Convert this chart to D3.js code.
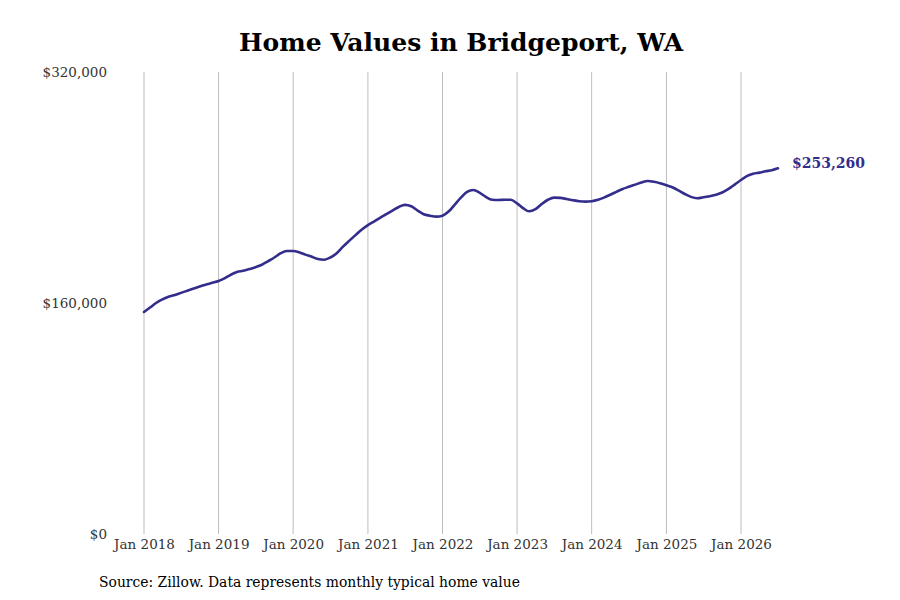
<!DOCTYPE html>
<html>
<head>
<meta charset="utf-8">
<script src="https://cdn.jsdelivr.net/npm/d3@7"></script>
<style>
  body { margin: 0; background: #fff; }
  svg text { font-family: "DejaVu Serif", serif; }
</style>
</head>
<body>
<div id="vizHolder"></div>
<script>
// monthly typical home value, Jan 2018 .. Jul 2026 (thousands of dollars)
var startYear = 2018;
var values = [
  153.8, 157, 160, 162.5, 164.3, 165.5, 167, 168.5, 170, 171.5, 172.8, 174,
  175.3, 177.2, 179.5, 181.5, 182.3, 183.5, 184.8, 186.5, 189, 191.5, 194.5, 196,
  196, 195, 193.5, 192, 190.5, 190, 191.5, 194.5, 199, 203, 207, 210.8,
  214, 216.5, 219, 221.5, 224, 226.5, 228, 227, 224, 221.5, 220.5, 219.8,
  220.5, 223.5, 228, 233, 237, 238.3, 236.5, 233.5, 231.5, 231.3, 231.5, 231.5,
  229, 225.5, 223.5, 225, 228.5, 231.5, 233, 232.8, 232, 231.2, 230.5, 230.2,
  230.5, 231.5, 233, 235, 237, 239, 240.5, 242, 243.5, 244.5, 244, 243,
  241.5, 240, 238, 235.5, 233.5, 232.6, 233.2, 234, 235, 236.5, 239, 242,
  245.2, 248, 249.5, 250.3, 251.2, 252, 253.26
];
var yTicks = [0, 160000, 320000];
var xTickYears = [2018, 2019, 2020, 2021, 2022, 2023, 2024, 2025, 2026];
var title = 'Home Values in Bridgeport, WA';
var source = 'Source: Zillow. Data represents monthly typical home value';
var endLabel = '$253,260';

var width = 900, height = 600,
    plotTop = 72, plotBottom = 534,
    lineColor = '#332d8b';

var data = values.map(function(v, i) {
  return { date: new Date(startYear, i, 1), value: v * 1000 };
});

var xScale = d3.scaleTime()
  .domain([new Date(2018, 0, 1), new Date(2026, 0, 1)])
  .range([144, 741]);

var yScale = d3.scaleLinear()
  .domain([0, 320000])
  .range([plotBottom, plotTop]);

var svg = d3.select('#vizHolder')
  .append('svg')
  .attr('width', width)
  .attr('height', height);

// vertical grid
svg.append('g')
  .selectAll('line')
  .data(xTickYears)
  .enter()
  .append('line')
  .attr('x1', function(d) { return xScale(new Date(d, 0, 1)); })
  .attr('x2', function(d) { return xScale(new Date(d, 0, 1)); })
  .attr('y1', plotTop)
  .attr('y2', plotBottom)
  .attr('stroke', '#bdbdbd')
  .attr('stroke-width', 1);

// x axis labels
var xAxis = svg.append('g')
  .attr('transform', 'translate(0,' + plotBottom + ')')
  .call(d3.axisBottom(xScale)
    .tickValues(xTickYears.map(function(d) { return new Date(d, 0, 1); }))
    .tickFormat(d3.timeFormat('Jan %Y'))
    .tickSize(0)
    .tickPadding(5));
xAxis.select('.domain').remove();
xAxis.selectAll('text')
  .attr('font-size', '13.5px')
  .attr('fill', '#333')
  .attr('font-family', '"DejaVu Serif", serif');

// y axis labels
var yAxis = svg.append('g')
  .attr('transform', 'translate(107,0)')
  .call(d3.axisLeft(yScale)
    .tickValues(yTicks)
    .tickFormat(function(d) { return '$' + d3.format(',')(d); })
    .tickSize(0)
    .tickPadding(0));
yAxis.select('.domain').remove();
yAxis.selectAll('text')
  .attr('font-size', '13.5px')
  .attr('fill', '#333')
  .attr('font-family', '"DejaVu Serif", serif');

// line
var line = d3.line()
  .x(function(d) { return xScale(d.date); })
  .y(function(d) { return yScale(d.value); })
  .curve(d3.curveMonotoneX);

svg.append('path')
  .datum(data)
  .attr('d', line)
  .attr('fill', 'none')
  .attr('stroke', lineColor)
  .attr('stroke-width', 2.6)
  .attr('stroke-linecap', 'round');

// end-of-line value label
var last = data[data.length - 1];
svg.append('text')
  .attr('x', xScale(last.date) + 14)
  .attr('y', yScale(last.value) - 5)
  .attr('dy', '0.35em')
  .attr('font-size', '14px')
  .attr('font-weight', 'bold')
  .attr('fill', lineColor)
  .text(endLabel);

svg.append('text')
  .attr('x', 461)
  .attr('y', 51)
  .attr('text-anchor', 'middle')
  .attr('font-size', '25px')
  .attr('font-weight', 'bold')
  .attr('fill', '#000')
  .text(title);

svg.append('text')
  .attr('x', 99)
  .attr('y', 587)
  .attr('font-size', '13.9px')
  .attr('fill', '#000')
  .text(source);
</script>
</body>
</html>
